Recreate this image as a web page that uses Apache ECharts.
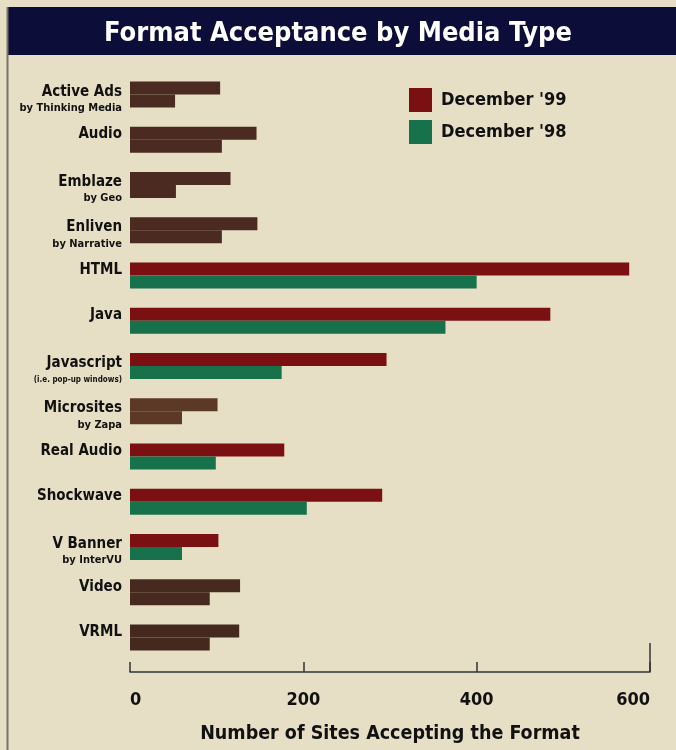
<!DOCTYPE html>
<html>
<head>
<meta charset="utf-8">
<script src="https://cdn.jsdelivr.net/npm/echarts@6/dist/echarts.min.js"></script>
<style>
html,body{margin:0;padding:0;background:#e7dfc5;}
#chart{width:676px;height:750px;}
</style>
</head>
<body>
<div id="chart"></div>
<script>
// ---- data ----
var categoryNames = ['Active Ads','Audio','Emblaze','Enliven','HTML','Java','Javascript','Microsites','Real Audio','Shockwave','V Banner','Video','VRML'];
var categorySubs  = ['by Thinking Media','','by Geo','by Narrative','','','(i.e. pop-up windows)','by Zapa','','','by InterVU','',''];
var dec99 = [104,146,116,147,576,485,296,101,178,291,102,127,126];
var dec98 = [52,106,53,106,400,364,175,60,99,204,60,92,92];
var xTicks = [0,200,400,600];
var seriesNames = ["December '99","December '98"];

// ---- styling ----
var FONT = '"Liberation Sans Narrow","DejaVu Sans Condensed","Roboto Condensed",sans-serif';
var RED = '#7a1012', GREEN = '#17724c';
var brownStyle = {'Active Ads':'#4a2a21','Audio':'#4a2a21','Emblaze':'#4a2a21','Enliven':'#4a2a21','Microsites':'#5c3926','Video':'#47291f','VRML':'#45291f'};
var smallSub = {'Javascript':true};

var cats = categoryNames.map(function(n,i){ return n + '|' + categorySubs[i]; });
function mk(vals){
  return vals.map(function(v,i){
    var b = brownStyle[categoryNames[i]];
    return b ? {value:v, itemStyle:{color:b}} : {value:v};
  });
}

var chart = echarts.init(document.getElementById('chart'), null, {renderer:'canvas'});
var baseGraphic = [
  {type:'rect', shape:{x:7,y:7,width:669,height:48}, style:{fill:'#0c0d38'}, z:0},
  {type:'line', shape:{x1:7.5,y1:7,x2:7.5,y2:750}, style:{stroke:'#77746a',lineWidth:2}, z:0}
];
chart.setOption({
  backgroundColor:'#e7dfc5',
  animation:false,
  graphic:baseGraphic,
  title:{
    text:'Format Acceptance by Media Type',
    left:'center', top:15,
    textStyle:{color:'#ffffff', fontFamily:FONT, fontWeight:'bold', fontSize:27}
  },
  legend:{
    orient:'vertical', left:409, top:88, padding:0,
    itemWidth:23, itemHeight:24, itemGap:8,
    icon:'rect',
    textStyle:{fontFamily:FONT, fontWeight:'bold', fontSize:18, color:'#111', padding:[0,0,0,4]},
    data:seriesNames
  },
  grid:{left:130, right:26, top:72, bottom:90, containLabel:false, outerBoundsMode:'none'},
  xAxis:{
    type:'value', min:0, max:600, interval:200, offset:12,
    axisLine:{show:true, lineStyle:{color:'#333', width:1.5}},
    axisTick:{show:true, inside:true, length:10, lineStyle:{color:'#333', width:1.5}},
    splitLine:{show:false},
    axisLabel:{
      margin:19, fontFamily:FONT, fontWeight:'bold', fontSize:18, color:'#111',
      alignMinLabel:'left', alignMaxLabel:'right',
      formatter:function(v){ return xTicks.indexOf(v)>=0 ? String(v) : ''; }
    },
    name:'Number of Sites Accepting the Format',
    nameLocation:'middle', nameGap:52,
    nameTextStyle:{fontFamily:FONT, fontWeight:'bold', fontSize:19.5, color:'#111'}
  },
  yAxis:{
    type:'category', inverse:true, data:cats,
    axisLine:{show:false}, axisTick:{show:false}, splitLine:{show:false},
    axisLabel:{
      margin:8, align:'right', verticalAlign:'middle',
      formatter:function(v){
        var p = v.split('|');
        if (p[1]) return '{m2|' + p[0] + '}\n{' + (smallSub[p[0]] ? 's3' : 's2') + '|' + p[1] + '}';
        return '{m1|' + p[0] + '}\n{e| }';
      },
      rich:{
        m1:{fontFamily:FONT, fontWeight:'bold', fontSize:15, color:'#111', lineHeight:16},
        e:{fontSize:4, lineHeight:11},
        m2:{fontFamily:FONT, fontWeight:'bold', fontSize:15, color:'#111', lineHeight:27},
        s2:{fontFamily:FONT, fontWeight:'bold', fontSize:11, color:'#111', lineHeight:6},
        s3:{fontFamily:FONT, fontWeight:'bold', fontSize:8, color:'#111', lineHeight:6}
      }
    }
  },
  series:[
    {name:seriesNames[0], type:'bar', data:mk(dec99), itemStyle:{color:RED}, barWidth:13, barGap:'0%'},
    {name:seriesNames[1], type:'bar', data:mk(dec98), itemStyle:{color:GREEN}, barWidth:13, barGap:'0%'}
  ]
});

// taller end tick at the axis maximum (as in the reference)
var xMaxPx = chart.convertToPixel({xAxisIndex:0}, xTicks[xTicks.length-1]);
var axisY = 750 - 90 + 12;
chart.setOption({graphic:baseGraphic.concat([
  {type:'line', shape:{x1:xMaxPx,y1:axisY-29,x2:xMaxPx,y2:axisY}, style:{stroke:'#333',lineWidth:1.5}, z:5}
])});
</script>
</body>
</html>
